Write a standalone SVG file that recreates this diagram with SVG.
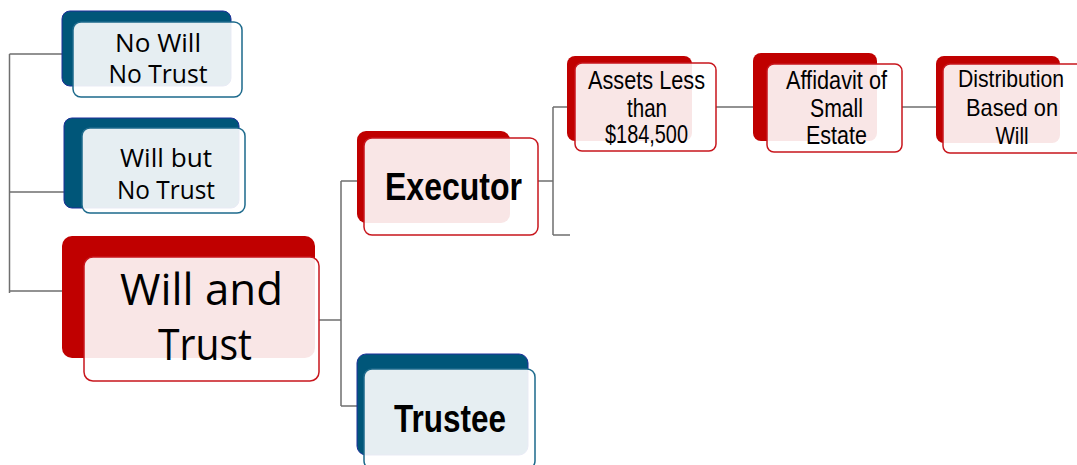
<svg xmlns="http://www.w3.org/2000/svg" width="1077" height="465" viewBox="0 0 1077 465">
<style>
.bg{fill:#fff}
.backR{fill:#C00000}
.backB{fill:#005679;stroke:#1c2f9a;stroke-width:1}
.frontR{fill:#fff;fill-opacity:0.9;stroke:#C8161D;stroke-width:1.5}
.frontB{fill:#fff;fill-opacity:0.9;stroke:#1d6a8c;stroke-width:1.5}
.conn{stroke:#6f6f6f;stroke-width:1.5;fill:none}
.cal{font-family:"Open Sans","Liberation Sans",sans-serif;fill:#000;text-anchor:middle}
.ari{font-family:"Liberation Sans",Arial,sans-serif;fill:#000;text-anchor:middle}
.bold{font-weight:bold}
</style>
<rect class="bg" x="0" y="0" width="1077" height="465"/>
<g id="connectors">
<path class="conn" d="M9.5 54 V293 M9.5 54 H62 M9.5 192 H64 M9.5 291 H62"/>
<path class="conn" d="M319 320 H341 M341 181 V406 M341 181 H357 M341 406 H357"/>
<path class="conn" d="M538 181 H553 M553 107 V235 M553 107 H567 M553 235 H570"/>
<path class="conn" d="M716 107 H753 M902 107 H936"/>
</g>
<g id="node-no-will">
<rect class="backB" x="62" y="11" width="169" height="75" rx="8"/>
<rect class="frontB" x="73" y="22" width="169" height="75" rx="8"/>
<text class="cal" font-size="25" x="158" y="52" textLength="86" lengthAdjust="spacingAndGlyphs">No Will</text>
<text class="cal" font-size="25" x="158" y="83" textLength="99" lengthAdjust="spacingAndGlyphs">No Trust</text>
</g>
<g id="node-will-no-trust">
<rect class="backB" x="64" y="118" width="175" height="90" rx="8"/>
<rect class="frontB" x="82" y="128" width="163" height="85" rx="8"/>
<text class="cal" font-size="25" x="166" y="167" textLength="92" lengthAdjust="spacingAndGlyphs">Will but</text>
<text class="cal" font-size="25" x="166" y="199" textLength="98" lengthAdjust="spacingAndGlyphs">No Trust</text>
</g>
<g id="node-will-and-trust">
<rect class="backR" x="62" y="236" width="253" height="122" rx="10"/>
<rect class="frontR" x="84" y="257" width="235" height="124" rx="9"/>
<text class="cal" font-size="44" x="201.5" y="305" textLength="163" lengthAdjust="spacingAndGlyphs">Will and</text>
<text class="cal" font-size="44" x="205" y="360" textLength="94" lengthAdjust="spacingAndGlyphs">Trust</text>
</g>
<g id="node-executor">
<rect class="backR" x="357" y="131" width="153" height="92" rx="9"/>
<rect class="frontR" x="364" y="138" width="174" height="97" rx="8"/>
<text class="ari bold" font-size="38" x="453.5" y="200" textLength="137" lengthAdjust="spacingAndGlyphs">Executor</text>
</g>
<g id="node-trustee">
<rect class="backB" x="357" y="354" width="171" height="101" rx="9"/>
<rect class="frontB" x="364" y="369" width="171" height="100" rx="8"/>
<text class="ari bold" font-size="38" x="450" y="432" textLength="112" lengthAdjust="spacingAndGlyphs">Trustee</text>
</g>
<g id="node-assets">
<rect class="backR" x="567" y="56" width="125" height="85" rx="8"/>
<rect class="frontR" x="575" y="63" width="141" height="88" rx="7"/>
<text class="ari" font-size="25.5" x="646.5" y="89" textLength="117" lengthAdjust="spacingAndGlyphs">Assets Less</text>
<text class="ari" font-size="25.5" x="647" y="117" textLength="40" lengthAdjust="spacingAndGlyphs">than</text>
<text class="ari" font-size="25.5" x="646.5" y="143" textLength="83" lengthAdjust="spacingAndGlyphs">$184,500</text>
</g>
<g id="node-affidavit">
<rect class="backR" x="753" y="53" width="124" height="88" rx="8"/>
<rect class="frontR" x="767" y="64" width="135" height="88" rx="7"/>
<text class="ari" font-size="25.5" x="836.5" y="89" textLength="101" lengthAdjust="spacingAndGlyphs">Affidavit of</text>
<text class="ari" font-size="25.5" x="836.5" y="117" textLength="53" lengthAdjust="spacingAndGlyphs">Small</text>
<text class="ari" font-size="25.5" x="836.5" y="144" textLength="61" lengthAdjust="spacingAndGlyphs">Estate</text>
</g>
<g id="node-distribution">
<rect class="backR" x="936" y="56" width="124" height="87" rx="8"/>
<rect class="frontR" x="943" y="64" width="142" height="89" rx="7"/>
<text class="ari" font-size="24" x="1011" y="87" textLength="106" lengthAdjust="spacingAndGlyphs">Distribution</text>
<text class="ari" font-size="24" x="1012" y="116" textLength="92" lengthAdjust="spacingAndGlyphs">Based on</text>
<text class="ari" font-size="24" x="1012" y="144" textLength="33" lengthAdjust="spacingAndGlyphs">Will</text>
</g>
</svg>
